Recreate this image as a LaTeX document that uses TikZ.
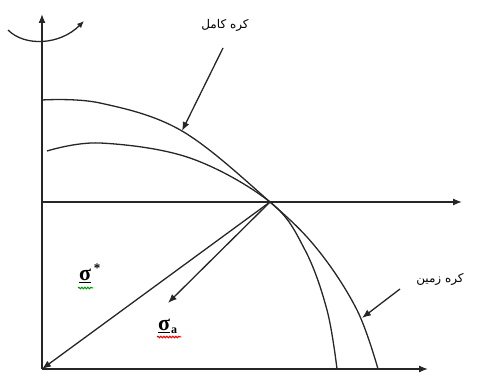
\documentclass[tikz,border=0pt]{standalone}
\usepackage{fontspec}
\usetikzlibrary{arrows.meta,decorations.pathmorphing}
\TeXXeTstate=1
\newfontfamily\arabicfont[Script=Arabic]{DejaVu Sans}
\newfontfamily\greekserif{Liberation Serif}
\tikzset{
  ln/.style={line width=1.3pt, black!85},
  arr/.style={ln, -{Latex[length=9pt,width=7pt]}},
  lbl/.style={font=\arabicfont\fontsize{12}{13}\selectfont, inner sep=0pt},
  sig/.style={font=\greekserif\bfseries\fontsize{22}{23}\selectfont, inner sep=0pt},
  squig/.style={decorate, decoration={snake, amplitude=0.8pt, segment length=3pt}, line width=1pt}
}
\begin{document}
\begin{tikzpicture}[x=1pt,y=-1pt]
\useasboundingbox (0,0) rectangle (477,379);
% key points
\coordinate (O) at (42,369);
\coordinate (Ytop) at (42,14);
\coordinate (Xend) at (428,369);
\coordinate (M0) at (42,202);
\coordinate (Mend) at (462,202);
\coordinate (P) at (270,202);
\coordinate (Q) at (168,303);
% axes
\draw[arr] (O) -- (Ytop);
\draw[arr] (O) -- (Xend);
\draw[arr] (M0) -- (Mend);
% rotation arrow
\coordinate (R0) at (8,30);
\coordinate (R1) at (84,21);
\draw[arr, -{Latex[length=7pt,width=6pt]}] (R0) .. controls (25,47) and (60,45) .. (R1);
% outer curve (full sphere)
\draw[ln] plot[smooth, tension=0.6] coordinates {(42,100) (100,103) (182,131) (270,202) (318,250) (357,310) (378,369)};
% inner curve (earth)
\draw[ln] plot[smooth, tension=0.6] coordinates {(47,151) (100,143) (190,158) (270,202) (305,250) (327,310) (337,369)};
% vectors
\draw[arr] (P) -- (O);
\draw[arr] (P) -- (Q);
% labels
\node[lbl] (kamel) at (225,25) {\beginR کره کامل\endR};
\coordinate (kamelTip) at (182,131);
\coordinate (kamelStart) at (223,48);
\draw[arr] (kamelStart) -- (kamelTip);
\node[lbl] (zamin) at (440,279) {\beginR کره زمین\endR};
\coordinate (zaminStart) at (400,289);
\coordinate (zaminTip) at (362,318);
\draw[arr] (zaminStart) -- (zaminTip);
% sigma labels
\node[sig] (sstar) at (85,276) {\underline{σ}};
\node[font=\greekserif\bfseries\fontsize{13}{13}\selectfont, inner sep=0pt] (star) at (97,268) {*};
\draw[squig, green!60!black] (78,288) -- (93,288);
\node[sig] (sa) at (164,326) {\underline{σ}};
\node[font=\greekserif\bfseries\fontsize{12}{12}\selectfont, inner sep=0pt] (suba) at (174,331) {a};
\draw[squig, red] (157,337) -- (181,337);
\end{tikzpicture}
\end{document}
